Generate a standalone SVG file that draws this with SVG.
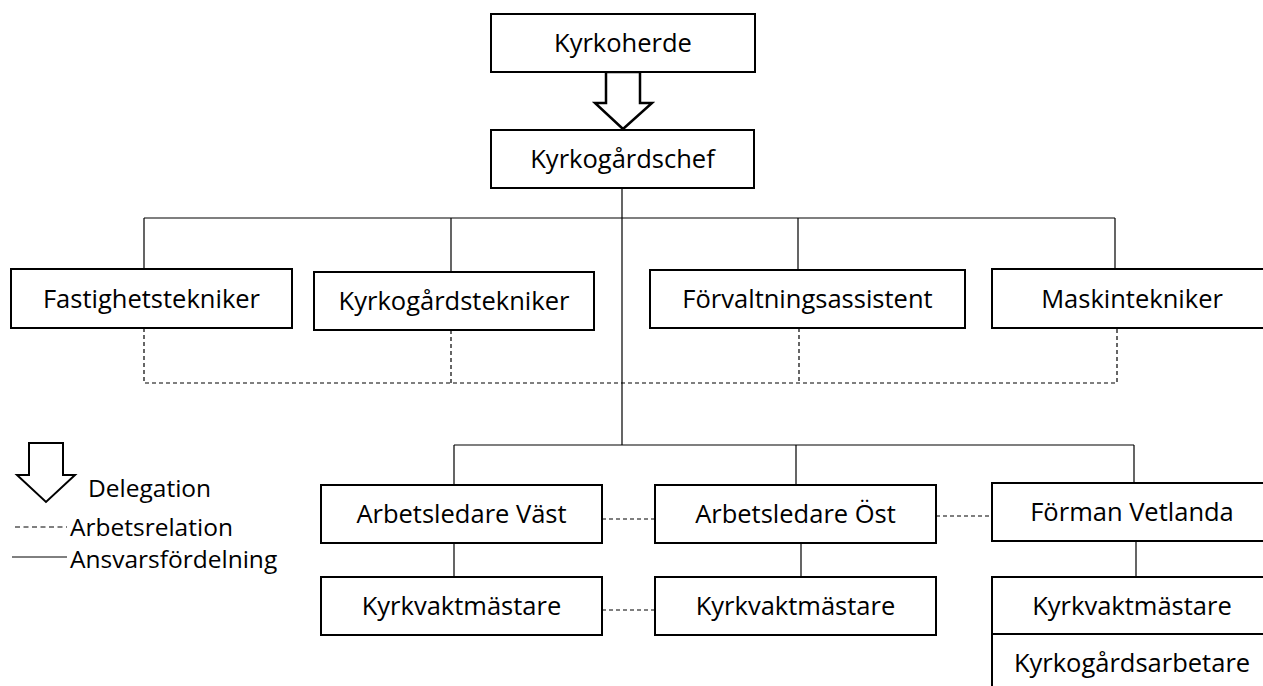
<svg xmlns="http://www.w3.org/2000/svg" width="1263" height="686" viewBox="0 0 1263 686">
<style>
.box{fill:#fff;stroke:#000;stroke-width:2}
.t{font-family:"Open Sans","Liberation Sans",sans-serif;font-size:25.5px;fill:#000;text-anchor:middle}
.lt{font-family:"Open Sans","Liberation Sans",sans-serif;font-size:24.5px;fill:#000}
.c{stroke:#000;stroke-width:1.2;fill:none}
.d{stroke:#000;stroke-width:1.2;fill:none;stroke-dasharray:4 3}
.arrow{fill:#fff;stroke:#000;stroke-width:2.5;stroke-linejoin:miter}
</style>
<rect width="1263" height="686" fill="#fff"/>
<g id="connectors">
<path class="c" d="M622 188V445M144 218H1115M144 218V269M451 218V272M798 218V270M1115 218V269"/>
<path class="d" d="M144 328V383H1117V328M451 330V383M799 328V383"/>
<path class="c" d="M454 445H1134M454 445V485M796 445V485M1134 445V483M454 543V577M801 543V577M1136 541V577"/>
<path class="d" d="M602 519H655M602 610H655M936 516H992"/>
<polygon class="arrow" points="606,72 640,72 640,103 652,103 623,129 595,103 606,103"/>
</g>
<g id="kyrkoherde"><rect class="box" x="491" y="14" width="264" height="58"/><text class="t" x="623" y="52">Kyrkoherde</text></g>
<g id="kyrkogardschef"><rect class="box" x="491" y="130" width="263" height="58"/><text class="t" x="622.5" y="168">Kyrkogårdschef</text></g>
<g id="fastighetstekniker"><rect class="box" x="11" y="269" width="281" height="59"/><text class="t" x="151.5" y="308">Fastighetstekniker</text></g>
<g id="kyrkogardstekniker"><rect class="box" x="314" y="272" width="280" height="58"/><text class="t" x="454" y="310">Kyrkogårdstekniker</text></g>
<g id="forvaltningsassistent"><rect class="box" x="650" y="270" width="315" height="58"/><text class="t" x="807.5" y="308">Förvaltningsassistent</text></g>
<g id="maskintekniker"><rect class="box" x="992" y="269" width="280" height="59"/><text class="t" x="1132" y="308">Maskintekniker</text></g>
<g id="arbetsledare-vast"><rect class="box" x="321" y="485" width="281" height="58"/><text class="t" x="461.5" y="523">Arbetsledare Väst</text></g>
<g id="kyrkvaktmastare-vast"><rect class="box" x="321" y="577" width="281" height="58"/><text class="t" x="461.5" y="615">Kyrkvaktmästare</text></g>
<g id="arbetsledare-ost"><rect class="box" x="655" y="485" width="281" height="58"/><text class="t" x="795.5" y="523">Arbetsledare Öst</text></g>
<g id="kyrkvaktmastare-ost"><rect class="box" x="655" y="577" width="281" height="58"/><text class="t" x="795.5" y="615">Kyrkvaktmästare</text></g>
<g id="forman-vetlanda"><rect class="box" x="992" y="483" width="280" height="58"/><text class="t" x="1132" y="521">Förman Vetlanda</text></g>
<g id="kyrkvaktmastare-vetlanda"><rect class="box" x="992" y="577" width="280" height="57"/><text class="t" x="1132" y="615">Kyrkvaktmästare</text></g>
<g id="kyrkogardsarbetare"><rect class="box" x="992" y="634" width="280" height="70"/><text class="t" x="1132" y="672">Kyrkogårdsarbetare</text></g>
<g id="legend">
<polygon class="arrow" style="stroke-width:2" points="29,443 63,443 63,475 75,475 46,502 17,475 29,475"/>
<text class="lt" x="88" y="497">Delegation</text>
<path d="M15 527H67" stroke="#000" stroke-width="1" stroke-dasharray="5 3.5"/>
<text class="lt" x="70" y="536">Arbetsrelation</text>
<path d="M12 557H67" stroke="#000" stroke-width="1"/>
<text class="lt" x="70" y="568">Ansvarsfördelning</text>
</g>
</svg>
